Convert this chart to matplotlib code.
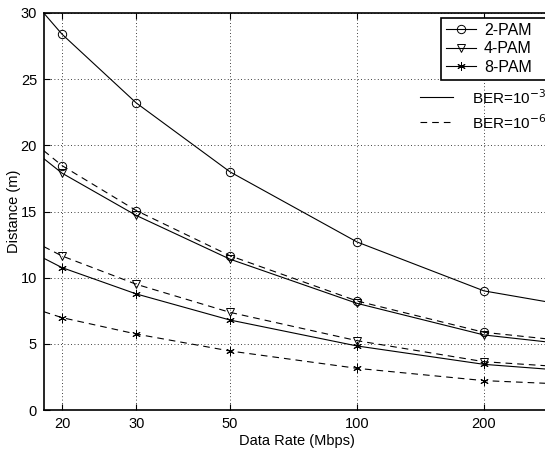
import matplotlib
matplotlib.use("Agg")
import matplotlib.pyplot as plt
from matplotlib.lines import Line2D
import numpy as np

plt.rcParams['font.family'] = ['Liberation Sans', 'DejaVu Sans']
plt.rcParams['font.size'] = 10.5

# data rates where markers sit, plus left/right ends of the drawn curves
rates = [20, 30, 50, 100, 200]
curve_rates = [18.1, 20, 30, 50, 100, 200, 279]

# BER = 1e-3 (solid)
pam2_e3 = [30.0, 28.4, 23.2, 18.0, 12.7, 9.0, 8.2]
pam4_e3 = [19.0, 17.9, 14.7, 11.4, 8.06, 5.67, 5.16]
pam8_e3 = [11.47, 10.76, 8.77, 6.8, 4.84, 3.45, 3.1]
# BER = 1e-6 (dashed)
pam2_e6 = [19.6, 18.47, 15.07, 11.66, 8.24, 5.87, 5.39]
pam4_e6 = [12.35, 11.64, 9.5, 7.38, 5.24, 3.65, 3.35]
pam8_e6 = [7.43, 6.98, 5.74, 4.46, 3.15, 2.22, 2.02]

names = ['2-PAM', '4-PAM', '8-PAM']
markers = ['o', 'v', (6, 2, 0)]
series_e3 = [pam2_e3, pam4_e3, pam8_e3]
series_e6 = [pam2_e6, pam4_e6, pam8_e6]

fig = plt.figure(figsize=(5.45, 4.5), dpi=100)
ax = fig.add_axes([44 / 545, 1 - 410 / 450, (550 - 44) / 545, (410 - 13) / 450])

dash = (0, (6, 4.5))
for vals3, vals6, mk in zip(series_e3, series_e6, markers):
    for vals, ls in ((vals3, '-'), (vals6, dash)):
        ax.plot(curve_rates, vals, color='black', lw=0.8, linestyle=ls)
        ax.plot(rates, vals[1:-1], color='black', lw=0, marker=mk,
                markersize=6, markerfacecolor='none', markeredgewidth=0.7)

ax.set_xscale('log')
ax.set_xlim(18.13, 286.7)
ax.set_ylim(0, 30)
ax.set_xticks(rates)
ax.set_xticklabels([str(r) for r in rates])
ax.xaxis.set_minor_locator(matplotlib.ticker.NullLocator())
ax.set_yticks(np.arange(0, 31, 5))
ax.tick_params(direction='in', length=4, width=0.8, top=True, right=False, pad=5)
ax.grid(True, color='black', linestyle=(0, (1, 3)), linewidth=0.6)
for s in ax.spines.values():
    s.set_linewidth(1.2)

ax.set_xlabel('Data Rate (Mbps)', labelpad=2)
ax.set_ylabel('Distance (m)')
ax.yaxis.set_label_coords(-0.045, 0.5)

handles = [Line2D([], [], color='black', lw=0.8, marker=m, markersize=6,
                  markerfacecolor='none', markeredgewidth=0.7) for m in markers]
leg = fig.legend(handles, names, loc='upper left', mode='expand',
                 bbox_to_anchor=(441 / 545, 1 - 18 / 450, 0.3, 0),
                 bbox_transform=fig.transFigure, fancybox=False,
                 edgecolor='black', framealpha=1, handlelength=1.9,
                 handletextpad=0.5, labelspacing=0.22, borderpad=0.3,
                 borderaxespad=0, fontsize=11.5)
leg.get_frame().set_linewidth(1.2)

# BER line-style key drawn inside the axes
for ypos, ls, txt in ((0.788, '-', r'BER=10$^{-3}$'), (0.725, dash, r'BER=10$^{-6}$')):
    ax.plot([0.743, 0.808], [ypos, ypos], transform=ax.transAxes, color='black',
            lw=0.8, linestyle=ls, clip_on=False)
    ax.text(0.846, ypos, txt, transform=ax.transAxes, va='center', ha='left',
            fontsize=11)

fig.savefig('out.png', dpi=100)
